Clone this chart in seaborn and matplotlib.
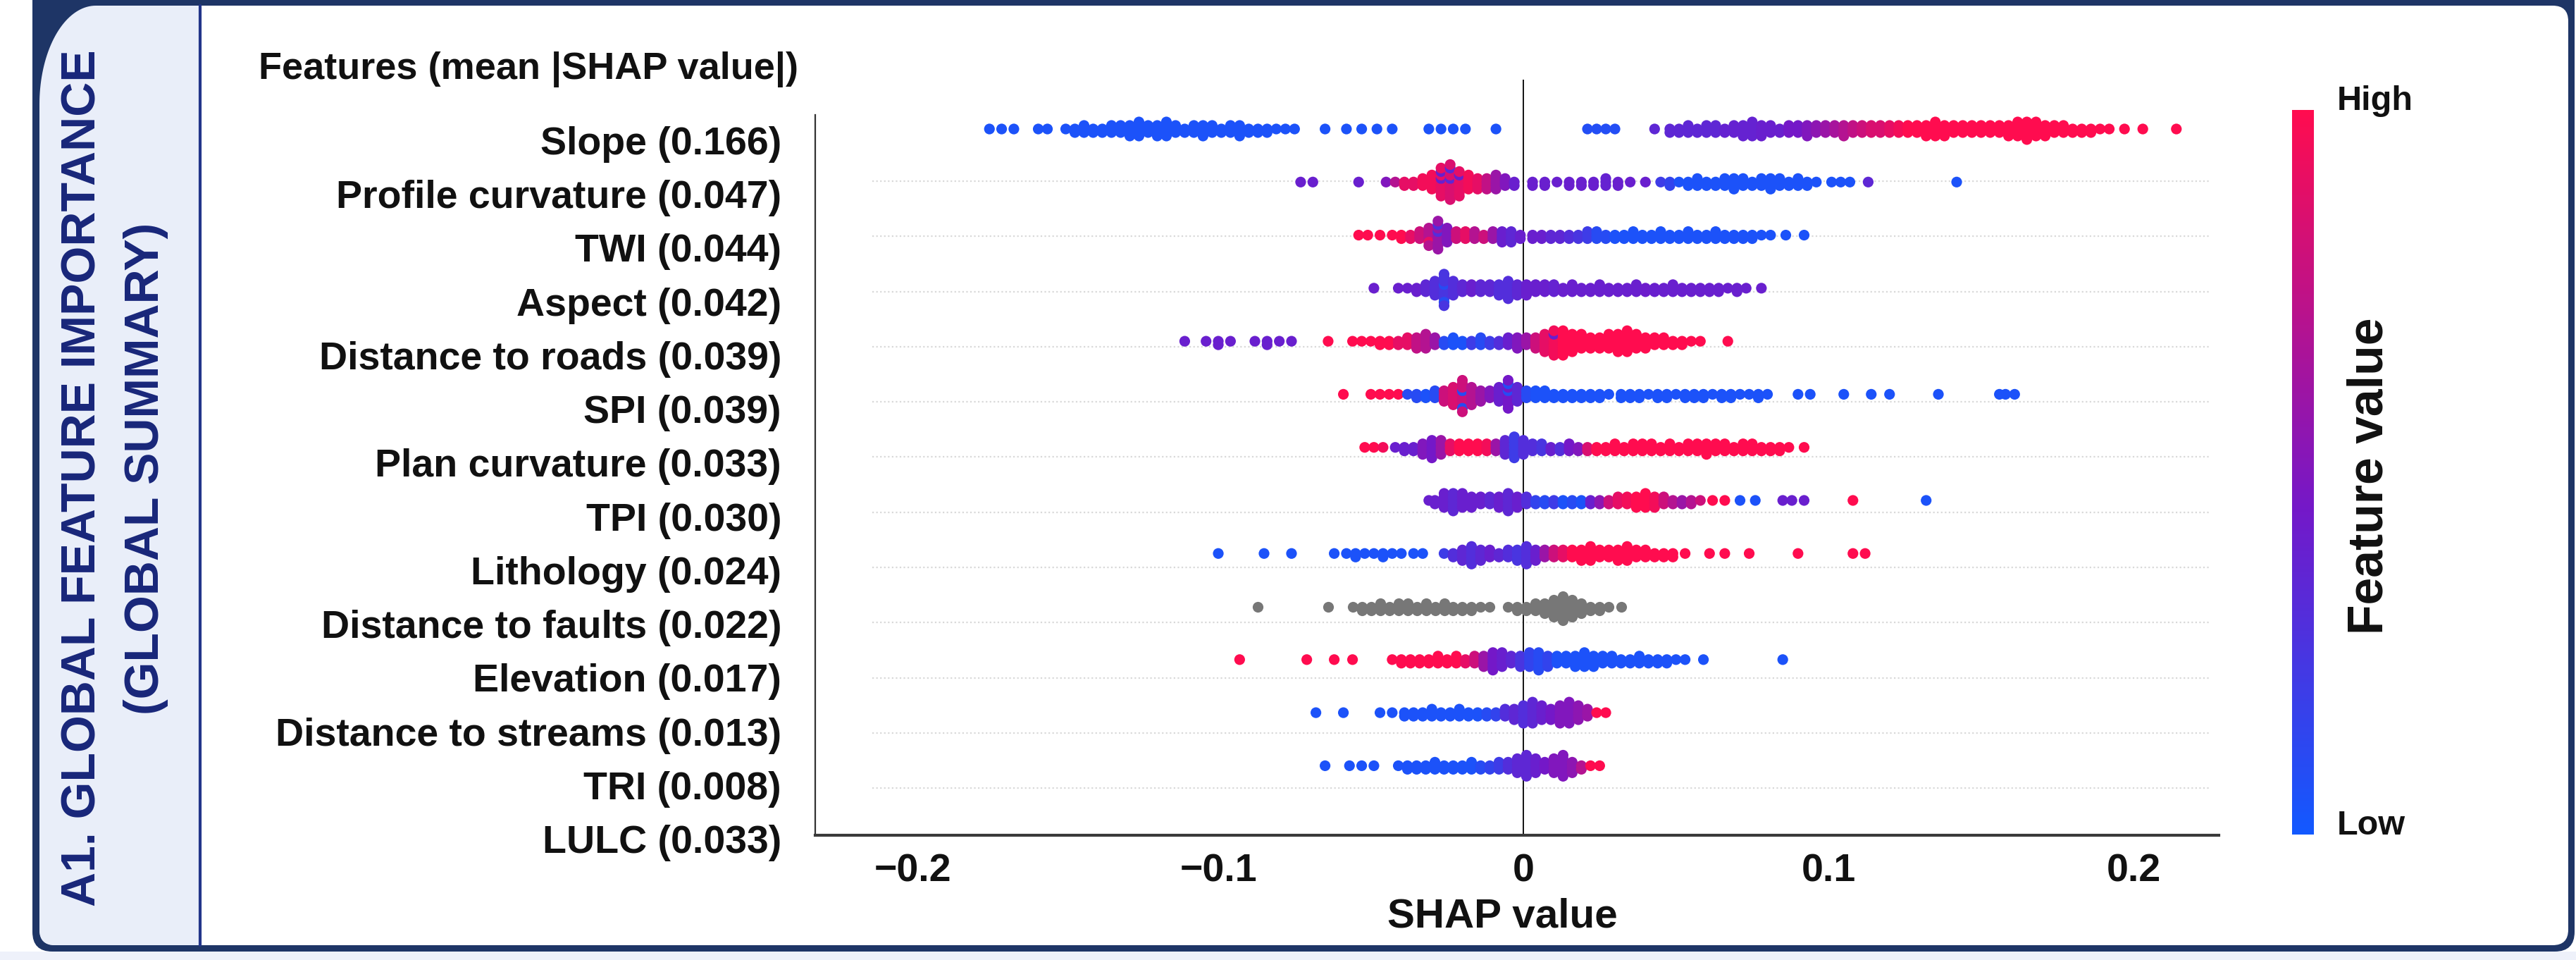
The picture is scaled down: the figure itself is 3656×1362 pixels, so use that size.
import numpy as np
import pandas as pd
import matplotlib
matplotlib.use("Agg")
import matplotlib.pyplot as plt
import seaborn as sns
from matplotlib import font_manager
from matplotlib.colors import LinearSegmentedColormap, Normalize
from matplotlib.cm import ScalarMappable
from matplotlib.patches import FancyBboxPatch, Rectangle, Polygon
from matplotlib.transforms import blended_transform_factory

# ---- data ----
FEATURES = ["Slope", "Profile curvature", "TWI", "Aspect", "Distance to roads", "SPI",
            "Plan curvature", "TPI", "Lithology", "Distance to faults", "Elevation",
            "Distance to streams", "TRI", "LULC"]
MEAN_ABS_SHAP = [0.166, 0.047, 0.044, 0.042, 0.039, 0.039, 0.033, 0.030, 0.024, 0.022,
                 0.017, 0.013, 0.008, 0.033]
X_TICKS = [-0.2, -0.1, 0, 0.1, 0.2]
X_TICK_LABELS = ["\u22120.2", "\u22120.1", "0", "0.1", "0.2"]

# (shap value, number of stacked points, feature value 0=low .. 1=high)
SLOPE = [
    (-0.175, 1, 0.05), (-0.171, 1, 0.05), (-0.167, 1, 0.05), (-0.159, 1, 0.05), (-0.156, 1, 0.05),
    (-0.150, 1, 0.05), (-0.147, 2, 0.05), (-0.144, 3, 0.05), (-0.141, 2, 0.05), (-0.138, 2, 0.05),
    (-0.135, 3, 0.05), (-0.132, 3, 0.05), (-0.129, 4, 0.05), (-0.126, 5, 0.05), (-0.123, 3, 0.05),
    (-0.120, 4, 0.05), (-0.117, 5, 0.05), (-0.114, 3, 0.05), (-0.111, 2, 0.05), (-0.108, 3, 0.05),
    (-0.105, 4, 0.05), (-0.102, 3, 0.05), (-0.099, 2, 0.05), (-0.096, 3, 0.05), (-0.093, 4, 0.05),
    (-0.090, 2, 0.05), (-0.087, 2, 0.05), (-0.084, 2, 0.05), (-0.081, 1, 0.05), (-0.078, 1, 0.05),
    (-0.075, 1, 0.05), (-0.065, 1, 0.05), (-0.058, 1, 0.05), (-0.053, 1, 0.05), (-0.048, 1, 0.05),
    (-0.043, 1, 0.05), (-0.031, 1, 0.05), (-0.027, 1, 0.05), (-0.023, 1, 0.05), (-0.019, 1, 0.05),
    (-0.009, 1, 0.05), (0.021, 1, 0.08), (0.024, 1, 0.08), (0.027, 1, 0.08), (0.030, 1, 0.08),
    (0.043, 1, 0.35), (0.048, 2, 0.35), (0.051, 2, 0.35), (0.054, 3, 0.35), (0.057, 2, 0.35),
    (0.060, 3, 0.35), (0.063, 3, 0.35), (0.066, 2, 0.38), (0.069, 3, 0.38), (0.072, 4, 0.38),
    (0.075, 5, 0.38), (0.078, 4, 0.4), (0.081, 3, 0.4), (0.084, 2, 0.4), (0.087, 3, 0.45),
    (0.090, 3, 0.45), (0.093, 4, 0.5), (0.096, 3, 0.55), (0.099, 3, 0.6), (0.102, 3, 0.65),
    (0.105, 4, 0.7), (0.108, 3, 0.75), (0.111, 3, 0.8), (0.114, 3, 0.85), (0.117, 3, 0.85),
    (0.120, 3, 0.9), (0.123, 3, 0.95), (0.126, 3, 1.0), (0.129, 3, 1.0), (0.132, 4, 1.0),
    (0.135, 5, 1.0), (0.138, 4, 1.0), (0.141, 3, 1.0), (0.144, 3, 1.0), (0.147, 3, 1.0),
    (0.150, 3, 1.0), (0.153, 3, 1.0), (0.156, 3, 1.0), (0.159, 4, 1.0), (0.162, 5, 1.0),
    (0.165, 6, 1.0), (0.168, 5, 1.0), (0.171, 4, 1.0), (0.174, 3, 1.0), (0.177, 3, 1.0),
    (0.180, 2, 1.0), (0.183, 2, 1.0), (0.186, 2, 1.0), (0.189, 1, 1.0), (0.192, 1, 1.0),
    (0.197, 1, 1.0), (0.203, 1, 1.0), (0.214, 1, 1.0),
]
PROFILE = [
    (-0.073, 1, 0.4), (-0.069, 1, 0.4), (-0.054, 1, 0.4), (-0.045, 1, 0.5), (-0.042, 1, 0.7),
    (-0.039, 2, 0.9), (-0.036, 2, 0.9), (-0.033, 3, 0.95), (-0.030, 5, 0.95), (-0.027, 7, 0.9),
    (-0.027, 2, 0.4), (-0.024, 9, 0.85), (-0.024, 2, 0.35), (-0.021, 7, 0.9), (-0.021, 1, 0.4),
    (-0.018, 5, 0.95), (-0.015, 4, 0.9), (-0.012, 4, 0.75), (-0.009, 5, 0.6), (-0.006, 3, 0.5),
    (-0.003, 2, 0.4), (0.003, 2, 0.4), (0.007, 2, 0.4), (0.011, 1, 0.4), (0.015, 2, 0.4),
    (0.019, 2, 0.4), (0.023, 2, 0.4), (0.027, 3, 0.38), (0.031, 2, 0.4), (0.035, 1, 0.4),
    (0.040, 1, 0.4), (0.045, 1, 0.2), (0.048, 2, 0.15), (0.051, 1, 0.05), (0.054, 2, 0.05),
    (0.057, 3, 0.05), (0.060, 2, 0.05), (0.063, 2, 0.05), (0.066, 3, 0.05), (0.069, 4, 0.05),
    (0.072, 3, 0.05), (0.075, 2, 0.05), (0.078, 3, 0.05), (0.081, 4, 0.05), (0.084, 3, 0.05),
    (0.087, 2, 0.05), (0.090, 3, 0.05), (0.093, 2, 0.05), (0.096, 1, 0.05), (0.101, 1, 0.05),
    (0.104, 1, 0.05), (0.107, 1, 0.05), (0.113, 1, 0.35), (0.142, 1, 0.05),
]
TWI = [
    (-0.054, 1, 1.0), (-0.051, 1, 1.0), (-0.047, 1, 1.0), (-0.043, 1, 1.0), (-0.040, 2, 1.0),
    (-0.037, 2, 0.9), (-0.034, 3, 0.8), (-0.031, 5, 0.7), (-0.031, 1, 0.9), (-0.028, 7, 0.6),
    (-0.028, 2, 0.3), (-0.025, 5, 0.5), (-0.022, 3, 0.8), (-0.019, 3, 0.9), (-0.016, 3, 0.7),
    (-0.013, 2, 0.8), (-0.010, 3, 0.6), (-0.007, 4, 0.4), (-0.004, 4, 0.35), (-0.001, 2, 0.4),
    (0.003, 2, 0.4), (0.006, 2, 0.4), (0.009, 2, 0.35), (0.012, 2, 0.35), (0.015, 2, 0.3),
    (0.018, 2, 0.25), (0.021, 3, 0.2), (0.024, 3, 0.1), (0.027, 2, 0.1), (0.030, 2, 0.05),
    (0.033, 2, 0.05), (0.036, 3, 0.05), (0.039, 2, 0.05), (0.042, 2, 0.05), (0.045, 3, 0.05),
    (0.048, 2, 0.05), (0.051, 2, 0.05), (0.054, 3, 0.05), (0.057, 2, 0.05), (0.060, 2, 0.05),
    (0.063, 3, 0.05), (0.066, 2, 0.05), (0.069, 2, 0.05), (0.072, 2, 0.05), (0.075, 2, 0.05),
    (0.078, 1, 0.05), (0.081, 1, 0.05), (0.086, 1, 0.05), (0.092, 1, 0.05),
]
ASPECT = [
    (-0.049, 1, 0.4), (-0.041, 1, 0.4), (-0.038, 1, 0.4), (-0.035, 2, 0.4), (-0.032, 3, 0.35),
    (-0.029, 5, 0.3), (-0.026, 8, 0.25), (-0.026, 2, 0.1), (-0.023, 5, 0.3), (-0.020, 3, 0.35),
    (-0.017, 3, 0.4), (-0.014, 3, 0.35), (-0.011, 3, 0.35), (-0.008, 4, 0.3), (-0.005, 6, 0.3),
    (-0.002, 4, 0.35), (0.001, 4, 0.4), (0.004, 3, 0.4), (0.007, 3, 0.4), (0.010, 3, 0.38),
    (0.013, 2, 0.4), (0.016, 3, 0.4), (0.019, 2, 0.4), (0.022, 2, 0.4), (0.025, 3, 0.4),
    (0.028, 2, 0.4), (0.031, 2, 0.4), (0.034, 2, 0.4), (0.037, 3, 0.4), (0.040, 2, 0.42),
    (0.043, 2, 0.4), (0.046, 2, 0.4), (0.049, 3, 0.4), (0.052, 2, 0.4), (0.055, 2, 0.4),
    (0.058, 2, 0.4), (0.061, 2, 0.4), (0.064, 2, 0.4), (0.067, 1, 0.4), (0.070, 2, 0.4),
    (0.073, 1, 0.4), (0.078, 1, 0.4),
]
ROADS = [
    (-0.111, 1, 0.4), (-0.104, 1, 0.4), (-0.100, 2, 0.4), (-0.096, 1, 0.4), (-0.088, 1, 0.4),
    (-0.084, 2, 0.4), (-0.080, 1, 0.4), (-0.076, 1, 0.4), (-0.064, 1, 1.0), (-0.056, 1, 1.0),
    (-0.053, 1, 1.0), (-0.050, 1, 1.0), (-0.047, 2, 1.0), (-0.044, 2, 1.0), (-0.041, 2, 0.9),
    (-0.038, 3, 0.9), (-0.035, 4, 0.75), (-0.032, 5, 0.7), (-0.029, 3, 0.6), (-0.026, 2, 0.1),
    (-0.023, 3, 0.05), (-0.020, 2, 0.05), (-0.017, 2, 0.2), (-0.014, 3, 0.1), (-0.011, 2, 0.2),
    (-0.008, 2, 0.3), (-0.005, 3, 0.4), (-0.002, 4, 0.5), (0.001, 3, 0.6), (0.004, 4, 0.8),
    (0.007, 6, 0.9), (0.010, 7, 0.95), (0.010, 1, 0.4), (0.013, 8, 1.0), (0.016, 6, 1.0),
    (0.019, 5, 1.0), (0.022, 4, 1.0), (0.025, 4, 1.0), (0.028, 5, 1.0), (0.031, 6, 1.0),
    (0.034, 7, 1.0), (0.037, 5, 1.0), (0.040, 4, 1.0), (0.043, 3, 1.0), (0.046, 3, 1.0),
    (0.049, 2, 1.0), (0.052, 2, 1.0), (0.055, 1, 1.0), (0.058, 1, 1.0), (0.067, 1, 1.0),
]
SPI = [
    (-0.059, 1, 1.0), (-0.050, 1, 1.0), (-0.047, 1, 1.0), (-0.044, 1, 1.0), (-0.041, 1, 1.0),
    (-0.038, 1, 0.1), (-0.035, 2, 0.1), (-0.032, 2, 0.05), (-0.029, 3, 0.1), (-0.026, 4, 0.8),
    (-0.023, 6, 0.85), (-0.020, 8, 0.8), (-0.020, 2, 0.1), (-0.017, 6, 0.7), (-0.014, 4, 0.6),
    (-0.011, 3, 0.5), (-0.008, 5, 0.4), (-0.005, 7, 0.45), (-0.005, 2, 0.1), (-0.002, 5, 0.35),
    (0.001, 3, 0.1), (0.004, 3, 0.05), (0.007, 3, 0.05), (0.010, 2, 0.05), (0.013, 2, 0.05),
    (0.016, 2, 0.05), (0.019, 2, 0.05), (0.022, 2, 0.05), (0.025, 2, 0.05), (0.028, 1, 0.05),
    (0.032, 2, 0.05), (0.035, 2, 0.05), (0.038, 2, 0.05), (0.041, 1, 0.05), (0.044, 2, 0.05),
    (0.047, 2, 0.05), (0.050, 1, 0.05), (0.053, 2, 0.05), (0.056, 2, 0.05), (0.059, 2, 0.05),
    (0.062, 1, 0.05), (0.065, 2, 0.05), (0.068, 2, 0.05), (0.071, 1, 0.05), (0.074, 1, 0.05),
    (0.077, 2, 0.05), (0.080, 1, 0.05), (0.090, 1, 0.05), (0.094, 1, 0.05), (0.105, 1, 0.05),
    (0.114, 1, 0.05), (0.120, 1, 0.05), (0.136, 1, 0.05), (0.156, 1, 0.05), (0.158, 1, 0.05),
    (0.161, 1, 0.05),
]
PLAN = [
    (-0.052, 1, 1.0), (-0.049, 1, 1.0), (-0.046, 1, 0.95), (-0.042, 1, 0.4), (-0.039, 2, 0.4),
    (-0.036, 2, 0.4), (-0.033, 4, 0.5), (-0.030, 6, 0.45), (-0.027, 5, 0.6), (-0.024, 3, 0.9),
    (-0.021, 3, 1.0), (-0.018, 3, 1.0), (-0.015, 3, 1.0), (-0.012, 3, 0.95), (-0.009, 3, 0.6),
    (-0.006, 5, 0.35), (-0.003, 7, 0.2), (0.000, 5, 0.3), (0.003, 3, 0.3), (0.006, 3, 0.25),
    (0.009, 2, 0.4), (0.012, 2, 0.3), (0.015, 3, 0.45), (0.018, 2, 0.5), (0.021, 2, 0.85),
    (0.024, 2, 1.0), (0.027, 2, 1.0), (0.030, 3, 1.0), (0.033, 2, 1.0), (0.036, 3, 1.0),
    (0.039, 3, 1.0), (0.042, 3, 1.0), (0.045, 2, 1.0), (0.048, 3, 1.0), (0.051, 2, 1.0),
    (0.054, 3, 1.0), (0.057, 3, 1.0), (0.060, 4, 1.0), (0.063, 3, 1.0), (0.066, 3, 1.0),
    (0.069, 2, 1.0), (0.072, 3, 1.0), (0.075, 3, 1.0), (0.078, 2, 1.0), (0.081, 2, 1.0),
    (0.084, 2, 1.0), (0.087, 1, 1.0), (0.092, 1, 1.0),
]
TPI = [
    (-0.031, 1, 0.4), (-0.029, 2, 0.4), (-0.026, 5, 0.4), (-0.023, 6, 0.35), (-0.020, 5, 0.4),
    (-0.017, 4, 0.4), (-0.014, 3, 0.4), (-0.011, 3, 0.35), (-0.008, 4, 0.4), (-0.005, 6, 0.35),
    (-0.002, 4, 0.4), (0.001, 3, 0.3), (0.004, 2, 0.15), (0.007, 2, 0.1), (0.010, 2, 0.2),
    (0.013, 2, 0.05), (0.016, 2, 0.1), (0.019, 2, 0.05), (0.022, 2, 0.4), (0.025, 2, 0.55),
    (0.028, 2, 0.8), (0.031, 3, 0.9), (0.034, 3, 0.95), (0.037, 4, 1.0), (0.040, 5, 1.0),
    (0.043, 4, 0.95), (0.046, 3, 0.8), (0.049, 2, 0.7), (0.052, 2, 0.6), (0.055, 2, 0.7),
    (0.058, 1, 0.8), (0.062, 1, 1.0), (0.066, 1, 1.0), (0.071, 1, 0.05), (0.076, 1, 0.05),
    (0.085, 1, 0.4), (0.088, 1, 0.4), (0.092, 1, 0.4), (0.108, 1, 1.0), (0.132, 1, 0.05),
]
LITHOLOGY = [
    (-0.100, 1, 0.05), (-0.085, 1, 0.05), (-0.076, 1, 0.05), (-0.062, 1, 0.05), (-0.058, 1, 0.05),
    (-0.055, 2, 0.05), (-0.052, 1, 0.05), (-0.049, 1, 0.05), (-0.046, 2, 0.05), (-0.043, 1, 0.05),
    (-0.040, 1, 0.05), (-0.036, 1, 0.05), (-0.033, 1, 0.05), (-0.026, 1, 0.2), (-0.023, 2, 0.3),
    (-0.020, 4, 0.35), (-0.017, 6, 0.3), (-0.014, 4, 0.35), (-0.011, 3, 0.4), (-0.008, 2, 0.35),
    (-0.005, 3, 0.3), (-0.002, 4, 0.25), (0.001, 6, 0.3), (0.004, 4, 0.4), (0.007, 3, 0.6),
    (0.010, 3, 0.8), (0.013, 3, 0.9), (0.016, 3, 1.0), (0.019, 4, 1.0), (0.022, 5, 1.0),
    (0.025, 3, 1.0), (0.028, 3, 1.0), (0.031, 4, 1.0), (0.034, 5, 1.0), (0.037, 3, 1.0),
    (0.040, 3, 1.0), (0.043, 2, 1.0), (0.046, 2, 1.0), (0.049, 2, 1.0), (0.053, 1, 1.0),
    (0.061, 1, 1.0), (0.066, 1, 1.0), (0.074, 1, 1.0), (0.090, 1, 1.0), (0.108, 1, 1.0),
    (0.112, 1, 1.0),
]
# no feature value for faults -> drawn grey
FAULTS = [
    (-0.087, 1), (-0.064, 1), (-0.056, 1), (-0.053, 2), (-0.050, 2), (-0.047, 3), (-0.044, 2),
    (-0.041, 3), (-0.038, 3), (-0.035, 2), (-0.032, 3), (-0.029, 2), (-0.026, 3), (-0.023, 2),
    (-0.020, 2), (-0.017, 2), (-0.014, 1), (-0.011, 1), (-0.005, 1), (-0.002, 2), (0.001, 2),
    (0.004, 3), (0.007, 4), (0.010, 6), (0.013, 8), (0.016, 6), (0.019, 4), (0.022, 2),
    (0.025, 2), (0.028, 1), (0.032, 1),
]
ELEVATION = [
    (-0.093, 1, 1.0), (-0.071, 1, 1.0), (-0.062, 1, 1.0), (-0.056, 1, 1.0), (-0.043, 1, 1.0),
    (-0.040, 2, 1.0), (-0.037, 2, 1.0), (-0.034, 2, 1.0), (-0.031, 2, 1.0), (-0.028, 3, 1.0),
    (-0.025, 2, 1.0), (-0.022, 3, 1.0), (-0.019, 2, 0.9), (-0.016, 3, 0.8), (-0.013, 4, 0.6),
    (-0.010, 6, 0.45), (-0.007, 5, 0.4), (-0.004, 3, 0.35), (-0.001, 4, 0.25), (0.002, 5, 0.15),
    (0.005, 6, 0.1), (0.008, 4, 0.15), (0.011, 3, 0.05), (0.014, 3, 0.05), (0.017, 4, 0.05),
    (0.020, 5, 0.05), (0.023, 4, 0.05), (0.026, 3, 0.05), (0.029, 3, 0.05), (0.032, 2, 0.05),
    (0.035, 2, 0.05), (0.038, 3, 0.05), (0.041, 2, 0.05), (0.044, 2, 0.05), (0.047, 2, 0.05),
    (0.050, 1, 0.05), (0.053, 1, 0.05), (0.059, 1, 0.05), (0.085, 1, 0.05),
]
STREAMS = [
    (-0.068, 1, 0.05), (-0.059, 1, 0.05), (-0.047, 1, 0.05), (-0.043, 1, 0.05), (-0.039, 2, 0.05),
    (-0.036, 2, 0.05), (-0.033, 2, 0.05), (-0.030, 3, 0.05), (-0.027, 2, 0.05), (-0.024, 2, 0.05),
    (-0.021, 3, 0.05), (-0.018, 2, 0.05), (-0.015, 2, 0.05), (-0.012, 2, 0.1), (-0.009, 2, 0.15),
    (-0.006, 3, 0.3), (-0.003, 4, 0.35), (0.000, 6, 0.3), (0.003, 7, 0.35), (0.006, 5, 0.4),
    (0.009, 4, 0.45), (0.012, 6, 0.5), (0.015, 7, 0.5), (0.018, 5, 0.55), (0.021, 3, 0.6),
    (0.024, 1, 1.0), (0.027, 1, 1.0),
]
TRI = [
    (-0.065, 1, 0.05), (-0.057, 1, 0.05), (-0.053, 1, 0.05), (-0.049, 1, 0.05), (-0.041, 1, 0.05),
    (-0.038, 2, 0.05), (-0.035, 2, 0.05), (-0.032, 2, 0.05), (-0.029, 3, 0.05), (-0.026, 2, 0.05),
    (-0.023, 2, 0.05), (-0.020, 2, 0.05), (-0.017, 3, 0.05), (-0.014, 2, 0.1), (-0.011, 2, 0.15),
    (-0.008, 3, 0.2), (-0.005, 3, 0.3), (-0.002, 5, 0.35), (0.001, 7, 0.35), (0.004, 5, 0.4),
    (0.007, 3, 0.45), (0.010, 5, 0.5), (0.013, 7, 0.5), (0.016, 4, 0.55), (0.019, 2, 0.7),
    (0.022, 1, 1.0), (0.025, 1, 1.0),
]
LULC = []
ROWS = [SLOPE, PROFILE, TWI, ASPECT, ROADS, SPI, PLAN, TPI, LITHOLOGY, FAULTS,
        ELEVATION, STREAMS, TRI, LULC]

# ---- styling ----
W, H = 3656, 1362
NAVY = "#1e3566"
TITLE_BLUE = "#18267a"
PANEL = "#e9eef9"
DY = 0.066            # vertical step between stacked points (row units)
LABEL_STEP, LABEL_SHIFT = 1.013, 0.29
GRID_STEP, GRID_SHIFT = 1.04, -0.057

sns.set_style("white")
names = {f.name for f in font_manager.fontManager.ttflist}
NARROW = "Liberation Sans Narrow" if "Liberation Sans Narrow" in names else "Liberation Sans"
WIDE = "Liberation Sans"
plt.rcParams["font.family"] = ["Liberation Sans", "DejaVu Sans"]

cmap = LinearSegmentedColormap.from_list(
    "shap_like", [(0.0, "#1259ff"), (0.45, "#7418c8"), (1.0, "#ff0c4f")])

# stack points that share a shap value (beeswarm style)
recs = []
for r, row in enumerate(ROWS):
    groups = {}
    for item in row:
        c = item[2] if len(item) > 2 else np.nan
        g = groups.setdefault(round(item[0], 4), [])
        for j in range(item[1]):
            g.append(((j + 0.5) / item[1], c))
    for x, pts in groups.items():
        pts = sorted(pts, key=lambda p: p[0])
        for k, (_, c) in enumerate(pts):
            layer = ((k + 1) // 2) * (1 if k % 2 else -1)
            recs.append((x, r + layer * DY, c))
df = pd.DataFrame(recs, columns=["shap", "ypos", "feature"])
colored = df[df["feature"].notna()]
grey = df[df["feature"].isna()]

fig = plt.figure(figsize=(W / 100, H / 100), dpi=100)
renderer = fig.canvas.get_renderer()


def fit(text, target, use_height=False):
    bb = text.get_window_extent(renderer)
    cur = bb.height if use_height else bb.width
    text.set_fontsize(text.get_fontsize() * target / cur)
    return text.get_fontsize()


# background frame (pixel coordinates)
bg = fig.add_axes([0, 0, 1, 1], zorder=-1)
bg.set_xlim(0, W)
bg.set_ylim(H, 0)
bg.axis("off")
bg.add_patch(Rectangle((0, 1350), W, 12, fc="#eef1fa", ec="none"))
bg.add_patch(FancyBboxPatch((46, -30), 3608, 1380, boxstyle="round,pad=0,rounding_size=28",
                            fc=NAVY, ec="none"))
bg.add_patch(FancyBboxPatch((56, 8), 3589, 1333, boxstyle="round,pad=0,rounding_size=22",
                            fc="white", ec="none"))
bg.add_patch(FancyBboxPatch((56, 8), 300, 1333, boxstyle="round,pad=0,rounding_size=22",
                            fc=PANEL, ec="none"))
bg.add_patch(Rectangle((286, 8), 140, 1333, fc="white", ec="none"))
t = np.linspace(0, np.pi / 2, 40)
wedge = np.column_stack([136 - 80 * np.cos(t), 148 - 140 * np.sin(t)])
bg.add_patch(Polygon(np.vstack([wedge, [[56, 8]]]), closed=True, fc=NAVY, ec="none"))
bg.plot([284, 284], [8, 1341], color="#22358a", lw=3)

t1 = bg.text(118, 678, "A1. GLOBAL FEATURE IMPORTANCE", rotation=90, ha="center", va="center",
             color=TITLE_BLUE, fontweight="bold", fontsize=40, family=WIDE)
size = fit(t1, 1216, use_height=True)
bg.text(207, 665, "(GLOBAL SUMMARY)", rotation=90, ha="center", va="center",
        color=TITLE_BLUE, fontweight="bold", fontsize=size, family=WIDE)

bg.text(367, 98, "Features (mean |SHAP value|)", ha="left", va="center", color="#111111",
        fontweight="bold", fontsize=39, family=NARROW)

# main beeswarm axes
ax = fig.add_axes([1157 / W, 1 - 1185 / H, (3149 - 1157) / W, (1185 - 113) / H])
ax.patch.set_alpha(0)
for r in range(1, len(FEATURES) - 1):
    ax.hlines(r * GRID_STEP + GRID_SHIFT, -0.2134, 0.2252, color="#d9d9d9", lw=1.6,
              linestyles=(0, (1, 1.5)), zorder=1)
ax.axvline(0, color="#111111", lw=1.4, zorder=2)
sns.scatterplot(data=colored, x="shap", y="ypos", hue="feature", palette=cmap, hue_norm=(0, 1),
                s=120, linewidth=0, legend=False, ax=ax, zorder=3)
sns.scatterplot(data=grey, x="shap", y="ypos", color="#777777", s=120, linewidth=0,
                ax=ax, zorder=3)
ax.set_xlim(-0.2321, 0.2279)
ax.set_ylim(13.31, -0.93)
ax.set_xlabel("")
ax.set_ylabel("")
ax.set_yticks([])
for side in ("top", "right"):
    ax.spines[side].set_visible(False)
ax.spines["left"].set_bounds(-0.27, 13.31)
ax.spines["left"].set_linewidth(1.6)
ax.spines["left"].set_color("#333333")
ax.spines["bottom"].set_linewidth(3)
ax.spines["bottom"].set_color("#3a3a3a")

trans = blended_transform_factory(ax.transAxes, ax.transData)
for r, (name, val) in enumerate(zip(FEATURES, MEAN_ABS_SHAP)):
    ax.text(-48 / 1992, r * LABEL_STEP + LABEL_SHIFT, f"{name} ({val:.3f})", transform=trans,
            ha="right", va="center", fontsize=40, fontweight="bold", family=NARROW,
            color="#111111", clip_on=False)

ax.set_xticks(X_TICKS)
ax.set_xticklabels(X_TICK_LABELS, fontsize=40, fontweight="bold", family=NARROW,
                   color="#111111")
ax.tick_params(axis="x", length=8.6, width=1.6, color="#444444", pad=10)

bg.text(2132, 1300, "SHAP value", ha="center", va="center", color="#111111",
        fontweight="bold", fontsize=42, family=NARROW)

# colour bar
cax = fig.add_axes([3253 / W, 1 - 1184 / H, 31 / W, (1184 - 156) / H])
cb = fig.colorbar(ScalarMappable(norm=Normalize(0, 1), cmap=cmap), cax=cax)
cb.outline.set_visible(False)
cb.set_ticks([])
bg.text(3317, 143, "High", ha="left", va="center", color="#111111", fontweight="bold",
        fontsize=35, family=NARROW)
bg.text(3317, 1172, "Low", ha="left", va="center", color="#111111", fontweight="bold",
        fontsize=35, family=NARROW)
fv = bg.text(3363, 675, "Feature value", rotation=90, ha="center", va="center", color="#111111",
             fontweight="bold", fontsize=40, family=WIDE)
fit(fv, 449, use_height=True)

fig.savefig("out.png", dpi=100)
